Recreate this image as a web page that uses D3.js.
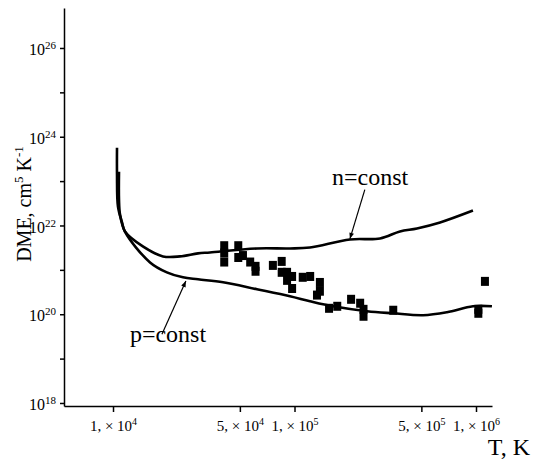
<!DOCTYPE html>
<html>
<head>
<meta charset="utf-8">
<script src="https://cdn.jsdelivr.net/npm/d3@7"></script>
<style>
  body { margin: 0; background: #fff; }
  svg { display: block; }
  text { font-family: "Liberation Serif", "Times New Roman", serif; fill: #000; }
</style>
</head>
<body>
<div id="chart"></div>
<script>
// n=const curve (T in K, DME)
const nConstT   = [1.052e4, 1.052e4, 1.065e4, 1.121e4, 1.164e4, 1.46e4, 1.886e4, 2.34e4, 2.94e4, 3.42e4, 6.21e4, 9.44e4, 1.217e5, 2.02e5, 2.96e5, 3.81e5, 4.73e5, 6.34e5, 9.62e5];
const nConstDME = [5.66e23, 1.40e23, 2.67e22, 1.17e22, 7.3e21, 3.37e21, 2.01e21, 2.01e21, 2.35e21, 2.47e21, 3.04e21, 3.04e21, 3.2e21, 4.85e21, 5.1e21, 7.33e21, 8.57e21, 1.17e22, 2.17e22];

// p=const curve
const pConstT   = [1.079e4, 1.079e4, 1.093e4, 1.164e4, 1.6e4, 1.98e4, 2.43e4, 2.94e4, 4.04e4, 6.21e4, 9.44e4, 1.217e5, 1.63e5, 2.51e5, 3.49e5, 5.11e5, 6.92e5, 9.62e5, 1.224e6];
const pConstDME = [1.63e23, 3.84e22, 1.77e22, 7.3e21, 1.47e21, 8.79e20, 6.78e20, 6.12e20, 5.24e20, 3.65e20, 2.54e20, 1.96e20, 1.51e20, 1.17e20, 1.05e20, 9.5e19, 1.11e20, 1.51e20, 1.51e20];

// observed points
const obsT   = [4.1e4, 4.1e4, 4.1e4, 4.9e4, 4.9e4, 5.2e4, 5.7e4, 6.1e4, 6.1e4, 7.6e4, 8.5e4, 8.5e4, 9.1e4, 9.1e4, 9.7e4, 9.7e4, 1.11e5, 1.22e5, 1.38e5, 1.38e5, 1.33e5, 1.55e5, 1.72e5, 2.05e5, 2.3e5, 2.4e5, 2.4e5, 3.5e5, 1.03e6, 1.03e6, 1.12e6];
const obsDME = [3.5e21, 2.4e21, 1.5e21, 3.5e21, 1.9e21, 2.1e21, 1.5e21, 1.2e21, 9.3e20, 1.26e21, 1.55e21, 8.8e20, 8.8e20, 5.8e20, 7.1e20, 3.8e20, 6.8e20, 7.1e20, 5.2e20, 3.3e20, 2.7e20, 1.36e20, 1.51e20, 2.17e20, 1.77e20, 1.29e20, 9.0e19, 1.23e20, 1.29e20, 1.05e20, 5.5e20];

// ticks
const yMajorTicks = [1e18, 1e20, 1e22, 1e24, 1e26];
const yMinorTicks = [1e19, 1e21, 1e23, 1e25];
const xTicks = [1e4, 5e4, 1e5, 5e5, 1e6];
const xTickMantissa = ["1", "5", "1", "5", "1"];
const xTickExp = ["4", "4", "5", "5", "6"];

var serif = '"Liberation Serif", "Times New Roman", serif';
var width = 534, height = 460;
var margin = { left: 64, right: 42, top: 8, bottom: 54 };

var svg = d3.select("#chart").append("svg")
  .attr("width", width)
  .attr("height", height);

var x = d3.scaleLog()
  .domain([5.37e3, 1.225e6])
  .range([margin.left, width - margin.right]);

var y = d3.scaleLog()
  .domain([8.55e17, 7.96e26])
  .range([height - margin.bottom, margin.top]);

// x axis
var xAxis = svg.append("g")
  .attr("transform", "translate(0," + (height - margin.bottom) + ")")
  .call(d3.axisBottom(x).tickValues(xTicks).tickSize(6).tickSizeOuter(0).tickFormat(""))
  .attr("font-family", serif);
xAxis.selectAll(".tick text")
  .attr("font-size", 15)
  .attr("dy", "1.05em")
  .each(function (d, i) {
    var t = d3.select(this);
    t.append("tspan").text(xTickMantissa[i] + ", \u00d7 10");
    t.append("tspan").attr("font-size", 10).attr("dy", -6).text(xTickExp[i]);
  });

// y axis
var yAxis = svg.append("g")
  .attr("transform", "translate(" + margin.left + ",0)")
  .call(d3.axisLeft(y).tickValues(yMajorTicks).tickSize(4).tickSizeOuter(0).tickFormat(""))
  .attr("font-family", serif);
yAxis.selectAll(".tick text")
  .attr("font-size", 16)
  .attr("x", -8)
  .attr("dy", "0.42em")
  .each(function (d) {
    var t = d3.select(this);
    t.append("tspan").text("10");
    t.append("tspan").attr("font-size", 11).attr("dy", -6).text(Math.round(Math.log10(d)));
  });
svg.append("g")
  .attr("transform", "translate(" + margin.left + ",0)")
  .call(d3.axisLeft(y).tickValues(yMinorTicks).tickSize(4).tickSizeOuter(0).tickFormat(""))
  .select(".domain").remove();

svg.selectAll(".domain, .tick line").attr("stroke", "#000").attr("stroke-width", 1.5);

// curves
var line = d3.line()
  .x(function (d) { return x(d[0]); })
  .y(function (d) { return y(d[1]); })
  .curve(d3.curveCatmullRom.alpha(0.5));

[[nConstT, nConstDME], [pConstT, pConstDME]].forEach(function (s) {
  svg.append("path")
    .datum(s[0].map(function (t, i) { return [t, s[1][i]]; }))
    .attr("d", line)
    .attr("fill", "none")
    .attr("stroke", "#000")
    .attr("stroke-width", 2.6);
});

// points
var sqW = 8, sqH = 9;
svg.selectAll(".obs")
  .data(obsT.map(function (t, i) { return [t, obsDME[i]]; }))
  .enter()
  .append("rect")
  .attr("class", "obs")
  .attr("x", function (d) { return x(d[0]) - sqW / 2; })
  .attr("y", function (d) { return y(d[1]) - sqH / 2; })
  .attr("width", sqW)
  .attr("height", sqH)
  .attr("fill", "#000");

// annotations
svg.append("defs").append("marker")
  .attr("id", "arr")
  .attr("viewBox", "0 0 10 10")
  .attr("refX", 10).attr("refY", 5)
  .attr("markerWidth", 7).attr("markerHeight", 5)
  .attr("orient", "auto")
  .append("path").attr("d", "M0,1 L10,5 L0,9 Z").attr("fill", "#000");

var notes = [
  { label: "n=const", tx: 2.61e5, ty: 8.3e22, from: [2.44e5, 6.44e22], to: [2.02e5, 5.0e21] },
  { label: "p=const", tx: 2.01e4, ty: 2.35e19, from: [1.86e4, 3.56e19], to: [2.52e4, 5.6e20] }
];
notes.forEach(function (n) {
  svg.append("line")
    .attr("x1", x(n.from[0])).attr("y1", y(n.from[1]))
    .attr("x2", x(n.to[0])).attr("y2", y(n.to[1]))
    .attr("stroke", "#000").attr("stroke-width", 1.2)
    .attr("marker-end", "url(#arr)");
  svg.append("text")
    .attr("x", x(n.tx)).attr("y", y(n.ty))
    .attr("text-anchor", "middle")
    .attr("font-size", 24)
    .text(n.label);
});

// axis titles
svg.append("text")
  .attr("x", 530).attr("y", 455)
  .attr("text-anchor", "end")
  .attr("font-size", 24)
  .text("T, K");

var yt = svg.append("text")
  .attr("transform", "translate(31,204) rotate(-90)")
  .attr("text-anchor", "middle")
  .attr("font-size", 20);
yt.append("tspan").text("DME, cm");
yt.append("tspan").attr("font-size", 13).attr("dy", -8).text("5");
yt.append("tspan").attr("dy", 8).text(" K");
yt.append("tspan").attr("font-size", 13).attr("dy", -8).text("-1");
</script>
</body>
</html>
